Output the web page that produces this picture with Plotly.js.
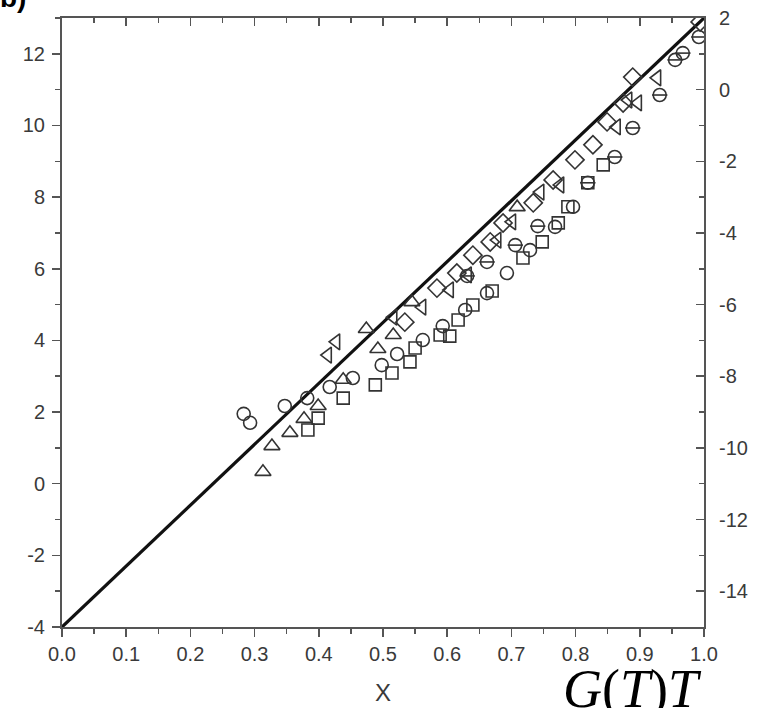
<!DOCTYPE html>
<html>
<head>
<meta charset="utf-8">
<script src="https://cdn.plot.ly/plotly-3.0.1.min.js"></script>
<style>
  html, body { margin: 0; padding: 0; background: #fff; }
  #chart { width: 759px; height: 708px; }
</style>
</head>
<body>
<div id="chart"></div>
<script>
// Reference line through the lower-left and upper-right corners
const lineX = [0, 1];
const lineY = [-4, 13];

// Open circles
const circX = [0.283, 0.293, 0.347, 0.382, 0.417, 0.453, 0.498, 0.522, 0.562, 0.593, 0.628, 0.662, 0.693, 0.729, 0.768, 0.796];
const circY = [1.95, 1.70, 2.17, 2.39, 2.70, 2.95, 3.31, 3.62, 4.01, 4.40, 4.85, 5.32, 5.88, 6.52, 7.17, 7.73];

// Open squares
const sqX = [0.383, 0.399, 0.438, 0.488, 0.514, 0.542, 0.550, 0.589, 0.604, 0.617, 0.640, 0.670, 0.718, 0.748, 0.773, 0.788, 0.819, 0.843];
const sqY = [1.50, 1.83, 2.39, 2.76, 3.09, 3.40, 3.79, 4.15, 4.12, 4.57, 4.99, 5.38, 6.30, 6.75, 7.28, 7.73, 8.40, 8.90];

// Circles with a bar
const barCX = [0.631, 0.662, 0.706, 0.741, 0.819, 0.861, 0.889, 0.931, 0.955, 0.967, 0.992];
const barCY = [5.80, 6.19, 6.66, 7.19, 8.40, 9.12, 9.93, 10.85, 11.83, 12.02, 12.47];

// Upward triangles
const triUX = [0.313, 0.327, 0.355, 0.377, 0.399, 0.438, 0.474, 0.492, 0.516, 0.545, 0.709];
const triUY = [0.33, 1.05, 1.42, 1.81, 2.17, 2.90, 4.32, 3.76, 4.15, 5.07, 7.72];

// Sideways triangles
const triSX = [0.414, 0.427, 0.516, 0.561, 0.604, 0.632, 0.678, 0.701, 0.745, 0.776, 0.864, 0.882, 0.897, 0.927];
const triSY = [3.59, 3.96, 4.65, 4.93, 5.41, 5.83, 6.80, 7.31, 8.14, 8.34, 9.96, 10.71, 10.63, 11.33];

// Open diamonds
const diaX = [0.534, 0.584, 0.615, 0.640, 0.667, 0.687, 0.734, 0.765, 0.799, 0.827, 0.849, 0.874, 0.889, 0.994];
const diaY = [4.51, 5.46, 5.88, 6.38, 6.75, 7.28, 7.84, 8.48, 9.04, 9.46, 10.10, 10.63, 11.35, 12.89];

// Axis tick labels (plain hyphen minus signs)
const xTicks = [0, 0.1, 0.2, 0.3, 0.4, 0.5, 0.6, 0.7, 0.8, 0.9, 1.0];
const xText = ['0.0', '0.1', '0.2', '0.3', '0.4', '0.5', '0.6', '0.7', '0.8', '0.9', '1.0'];
const leftTicks = [-4, -2, 0, 2, 4, 6, 8, 10, 12];
const leftText = ['-4', '-2', '0', '2', '4', '6', '8', '10', '12'];
const rightTicks = [-14, -12, -10, -8, -6, -4, -2, 0, 2];
const rightText = ['-14', '-12', '-10', '-8', '-6', '-4', '-2', '0', '2'];

const ink = '#333';
const axisCol = '#555';

function pts(x, y, symbol, size) {
  return {
    x: x, y: y, type: 'scatter', mode: 'markers', showlegend: false,
    hoverinfo: 'skip',
    marker: { symbol: symbol, size: size, color: ink,
              line: { color: ink, width: 1.6 } }
  };
}

function tickFont() {
  return { family: 'Arial, Liberation Sans, sans-serif', size: 20, color: '#3a3a3a' };
}

const traces = [
  { x: lineX, y: lineY, type: 'scatter', mode: 'lines', showlegend: false,
    line: { color: '#111', width: 3.2 }, hoverinfo: 'skip' },
  pts(circX, circY, 'circle-open', 13),
  pts(sqX, sqY, 'square-open', 12),
  pts(barCX, barCY, 'circle-open', 13),
  pts(barCX, barCY, 'line-ew-open', 11),
  pts(triUX, triUY, 'triangle-up-open', 14),
  pts(triSX, triSY, 'triangle-left-open', 14),
  pts(diaX, diaY, 'diamond-open', 14),
  // right-hand axis carrier (no visible marks)
  { x: [0.5], y: [0], yaxis: 'y2', type: 'scatter', mode: 'markers',
    marker: { opacity: 0 }, showlegend: false, hoverinfo: 'skip' },
  // top axis carrier
  { x: [0.5], y: [0], xaxis: 'x2', type: 'scatter', mode: 'markers',
    marker: { opacity: 0 }, showlegend: false, hoverinfo: 'skip' }
];

const layout = {
  width: 759, height: 708,
  margin: { l: 62, r: 55, t: 18, b: 81 },
  paper_bgcolor: '#fff', plot_bgcolor: '#fff',
  showlegend: false,
  font: { family: 'Arial, Liberation Sans, sans-serif', size: 20, color: '#3a3a3a' },
  xaxis: {
    range: [0, 1], tickmode: 'array', tickvals: xTicks, ticktext: xText,
    showgrid: false, zeroline: false,
    showline: true, linecolor: axisCol, linewidth: 2,
    ticks: 'outside', ticklen: 8, tickwidth: 1.5, tickcolor: axisCol,
    minor: { ticks: 'outside', dtick: 0.05, tick0: 0, ticklen: 5, tickwidth: 1.5, tickcolor: axisCol },
    tickfont: tickFont()
  },
  xaxis2: {
    overlaying: 'x', side: 'top', anchor: 'y', range: [0, 1], dtick: 0.1,
    showgrid: false, zeroline: false, showticklabels: false,
    showline: true, linecolor: axisCol, linewidth: 2,
    ticks: 'inside', ticklen: 8, tickwidth: 1.5, tickcolor: axisCol,
    minor: { ticks: 'inside', dtick: 0.05, ticklen: 5, tickwidth: 1.5, tickcolor: axisCol }
  },
  yaxis: {
    range: [-4, 13], tickmode: 'array', tickvals: leftTicks, ticktext: leftText,
    showgrid: false, zeroline: false,
    showline: true, linecolor: axisCol, linewidth: 2,
    ticks: 'outside', ticklen: 8, tickwidth: 1.5, tickcolor: axisCol,
    minor: { ticks: 'outside', dtick: 1, tick0: 0, ticklen: 5, tickwidth: 1.5, tickcolor: axisCol },
    tickfont: tickFont(), ticklabelstandoff: 3
  },
  yaxis2: {
    overlaying: 'y', side: 'right', anchor: 'x', range: [-15, 2],
    tickmode: 'array', tickvals: rightTicks, ticktext: rightText,
    showgrid: false, zeroline: false,
    showline: true, linecolor: axisCol, linewidth: 2,
    ticks: 'inside', ticklen: 8, tickwidth: 1.5, tickcolor: axisCol,
    minor: { ticks: 'inside', dtick: 1, tick0: 0, ticklen: 5, tickwidth: 1.5, tickcolor: axisCol },
    tickfont: tickFont(), ticklabelstandoff: 9
  },
  annotations: [
    { text: 'X', xref: 'paper', yref: 'paper', x: 0.50, y: -0.082,
      xanchor: 'center', yanchor: 'top', showarrow: false,
      font: { family: 'Arial, Liberation Sans, sans-serif', size: 24, color: '#3a3a3a' } },
    { text: '<i>G</i>(<i>T</i>)<i>T</i>', xref: 'paper', yref: 'paper', x: 1.0, y: -0.05,
      xanchor: 'right', yanchor: 'top', showarrow: false,
      font: { family: 'Liberation Serif, Times New Roman, serif', size: 54, color: '#000' } },
    { text: '<b>b)</b>', xref: 'paper', yref: 'paper', x: -0.1, y: 1.005,
      xanchor: 'left', yanchor: 'bottom', showarrow: false,
      font: { family: 'Arial, Liberation Sans, sans-serif', size: 28, color: '#000' } }
  ]
};

Plotly.newPlot('chart', traces, layout, { staticPlot: true, displayModeBar: false });
</script>
</body>
</html>
